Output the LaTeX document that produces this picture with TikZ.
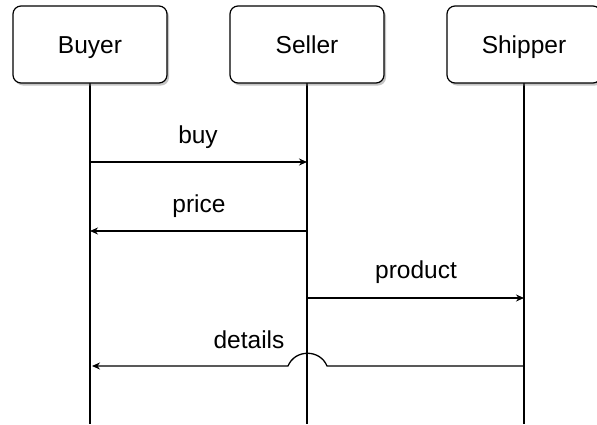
\documentclass[tikz,border=0pt]{standalone}
\usepackage{fontspec}
\setmainfont{Liberation Sans}
\usetikzlibrary{shadows,arrows.meta}
\tikzset{
  actor/.style={draw=black, line width=1.2pt, fill=white, rounded corners=8pt,
    minimum width=154pt, minimum height=77pt, inner sep=0pt,
    text height=17pt, text depth=0pt,
    drop shadow={opacity=0.45, shadow xshift=2pt, shadow yshift=-2.5pt},
    font=\fontsize{24.5}{28}\selectfont},
  life/.style={line width=1.3pt},
  msg/.style={line width=1.3pt, -{Stealth[length=8pt,width=7pt]}},
  lbl/.style={font=\fontsize{24.5}{28}\selectfont, inner sep=0pt}
}
\begin{document}
\begin{tikzpicture}[x=1pt,y=-1pt]
\useasboundingbox (0,0) rectangle (597,424);
\fill[white] (0,0) rectangle (597,424);
% lifelines
\coordinate (bb) at (90,424);
\coordinate (sb) at (307,424);
\coordinate (hb) at (524,424);
\draw[life] (90,83) -- (bb);
\draw[life] (307,83) -- (sb);
\draw[life] (524,83) -- (hb);
% actors
\node[actor] (buyer) at (90,44.5) {Buyer};
\node[actor] (seller) at (307,44.5) {Seller};
\begin{scope}
\clip (0,0) rectangle (597,424);
\node[actor] (shipper) at (524,44.5) {Shipper};
\end{scope}
% message coordinates
\coordinate (b1) at (90,162);
\coordinate (s1) at (307,162);
\coordinate (s2) at (307,231);
\coordinate (b2) at (90,231);
\coordinate (s3) at (307,298);
\coordinate (h3) at (524,298);
\coordinate (h4) at (524,366);
\coordinate (b4) at (92,366);
% messages
\draw[msg] (b1) -- (s1);
\draw[msg] (s2) -- (b2);
\draw[msg] (s3) -- (h3);
\draw[msg] (h4) -- (327,366) .. controls (320,349) and (295,349) .. (288,366) -- (b4);
% labels
\node[lbl] (lbuy) at (198,137) {buy};
\node[lbl] (lprice) at (199,206) {price};
\node[lbl] (lproduct) at (416,272) {product};
\node[lbl] (ldetails) at (249,340) {details};
\end{tikzpicture}
\end{document}
